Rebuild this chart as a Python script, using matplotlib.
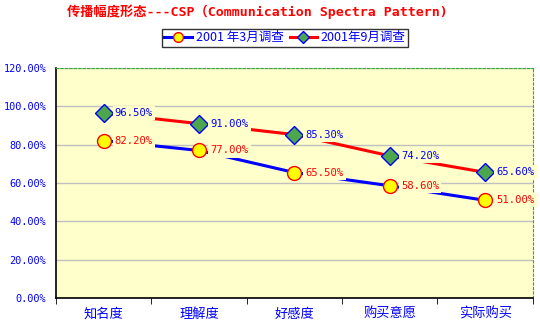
import numpy as np
import matplotlib.pyplot as plt
from matplotlib.lines import Line2D

plt.rcParams['font.family'] = ['Noto Sans CJK SC', 'DejaVu Sans']

# Data
categories = ['知名度', '理解度', '好感度', '购买意愿', '实际购买']
march_2001 = [0.822, 0.770, 0.655, 0.586, 0.510]
sept_2001 = [0.965, 0.910, 0.853, 0.742, 0.656]
series_names = ['2001 年3月调查', '2001年9月调查']

bg = '#FFFFCC'

fig = plt.figure(figsize=(5.4, 3.27), dpi=100)
ax = fig.add_axes([0.1037, 0.0887, 0.883, 0.703])
ax.set_facecolor(bg)

x = np.arange(len(categories))

ax.plot(x, march_2001, color='#0000FF', lw=2.2, marker='o', ms=10,
        mfc='#FFFF00', mec='#FF0000', mew=1, zorder=3)
ax.plot(x, sept_2001, color='#FF0000', lw=2.2, marker='D', ms=9,
        mfc='#4CA64C', mec='#0000FF', mew=1, zorder=3)

# data labels to the right of markers, masking the line
for xi, v in zip(x, march_2001):
    ax.annotate(f'{v*100:.2f}%', (xi, v), xytext=(8, 0), textcoords='offset points',
                va='center', ha='left', color='#FF0000', fontsize=7.6,
                family=['DejaVu Sans Mono'],
                bbox=dict(facecolor=bg, edgecolor='none', pad=1.5), zorder=4)
for xi, v in zip(x, sept_2001):
    ax.annotate(f'{v*100:.2f}%', (xi, v), xytext=(8, 0), textcoords='offset points',
                va='center', ha='left', color='#0000FF', fontsize=7.6,
                family=['DejaVu Sans Mono'],
                bbox=dict(facecolor=bg, edgecolor='none', pad=1.5), zorder=4)

ax.set_xlim(-0.5, len(categories) - 0.5)
ax.set_ylim(0, 1.2)
ax.set_yticks(np.arange(0, 1.21, 0.2))
ax.set_yticklabels([f'{t*100:.2f}%' for t in np.arange(0, 1.21, 0.2)],
                   color='#0000FF', fontsize=7.4, family=['DejaVu Sans Mono'])
ax.set_xticks(x)
ax.set_xticklabels(categories, color='#0000FF', fontsize=9.5)
ax.set_xticks(np.arange(-0.5, len(categories), 1), minor=True)
ax.tick_params(axis='x', which='major', length=0, pad=7)
ax.tick_params(axis='x', which='minor', length=4, direction='out', color='black')
ax.tick_params(axis='y', length=0, pad=7)

ax.yaxis.grid(True, color='#C0C0C0', lw=1)
ax.set_axisbelow(True)

ax.spines['left'].set_color('black')
ax.spines['bottom'].set_color('black')
ax.spines['left'].set_linewidth(1.2)
ax.spines['bottom'].set_linewidth(1.2)
for s in ['top', 'right']:
    ax.spines[s].set_color('#33AA33')
    ax.spines[s].set_linestyle((0, (2, 2)))
    ax.spines[s].set_linewidth(0.8)

fig.text(0.476, 0.965, '传播幅度形态---CSP（Communication Spectra Pattern)',
         ha='center', va='center', color='#FF0000', fontsize=9.5, fontweight='bold',
         family=['DejaVu Sans Mono', 'Noto Sans CJK SC'])

handles = [
    Line2D([], [], color='#0000FF', lw=2.2, marker='o', ms=7,
           mfc='#FFFF00', mec='#FF0000', mew=1),
    Line2D([], [], color='#FF0000', lw=2.2, marker='D', ms=6,
           mfc='#4CA64C', mec='#0000FF', mew=1),
]
leg = fig.legend(handles, series_names, loc='center', bbox_to_anchor=(0.528, 0.884),
                 ncol=2, frameon=True, fancybox=False, fontsize=9,
                 handlelength=2.2, handletextpad=0.3, columnspacing=0.5,
                 borderpad=0.2, borderaxespad=0)
leg.get_frame().set_edgecolor('black')
leg.get_frame().set_linewidth(1)
for t in leg.get_texts():
    t.set_color('#0000FF')

fig.savefig('out.png', dpi=100, facecolor='white')
